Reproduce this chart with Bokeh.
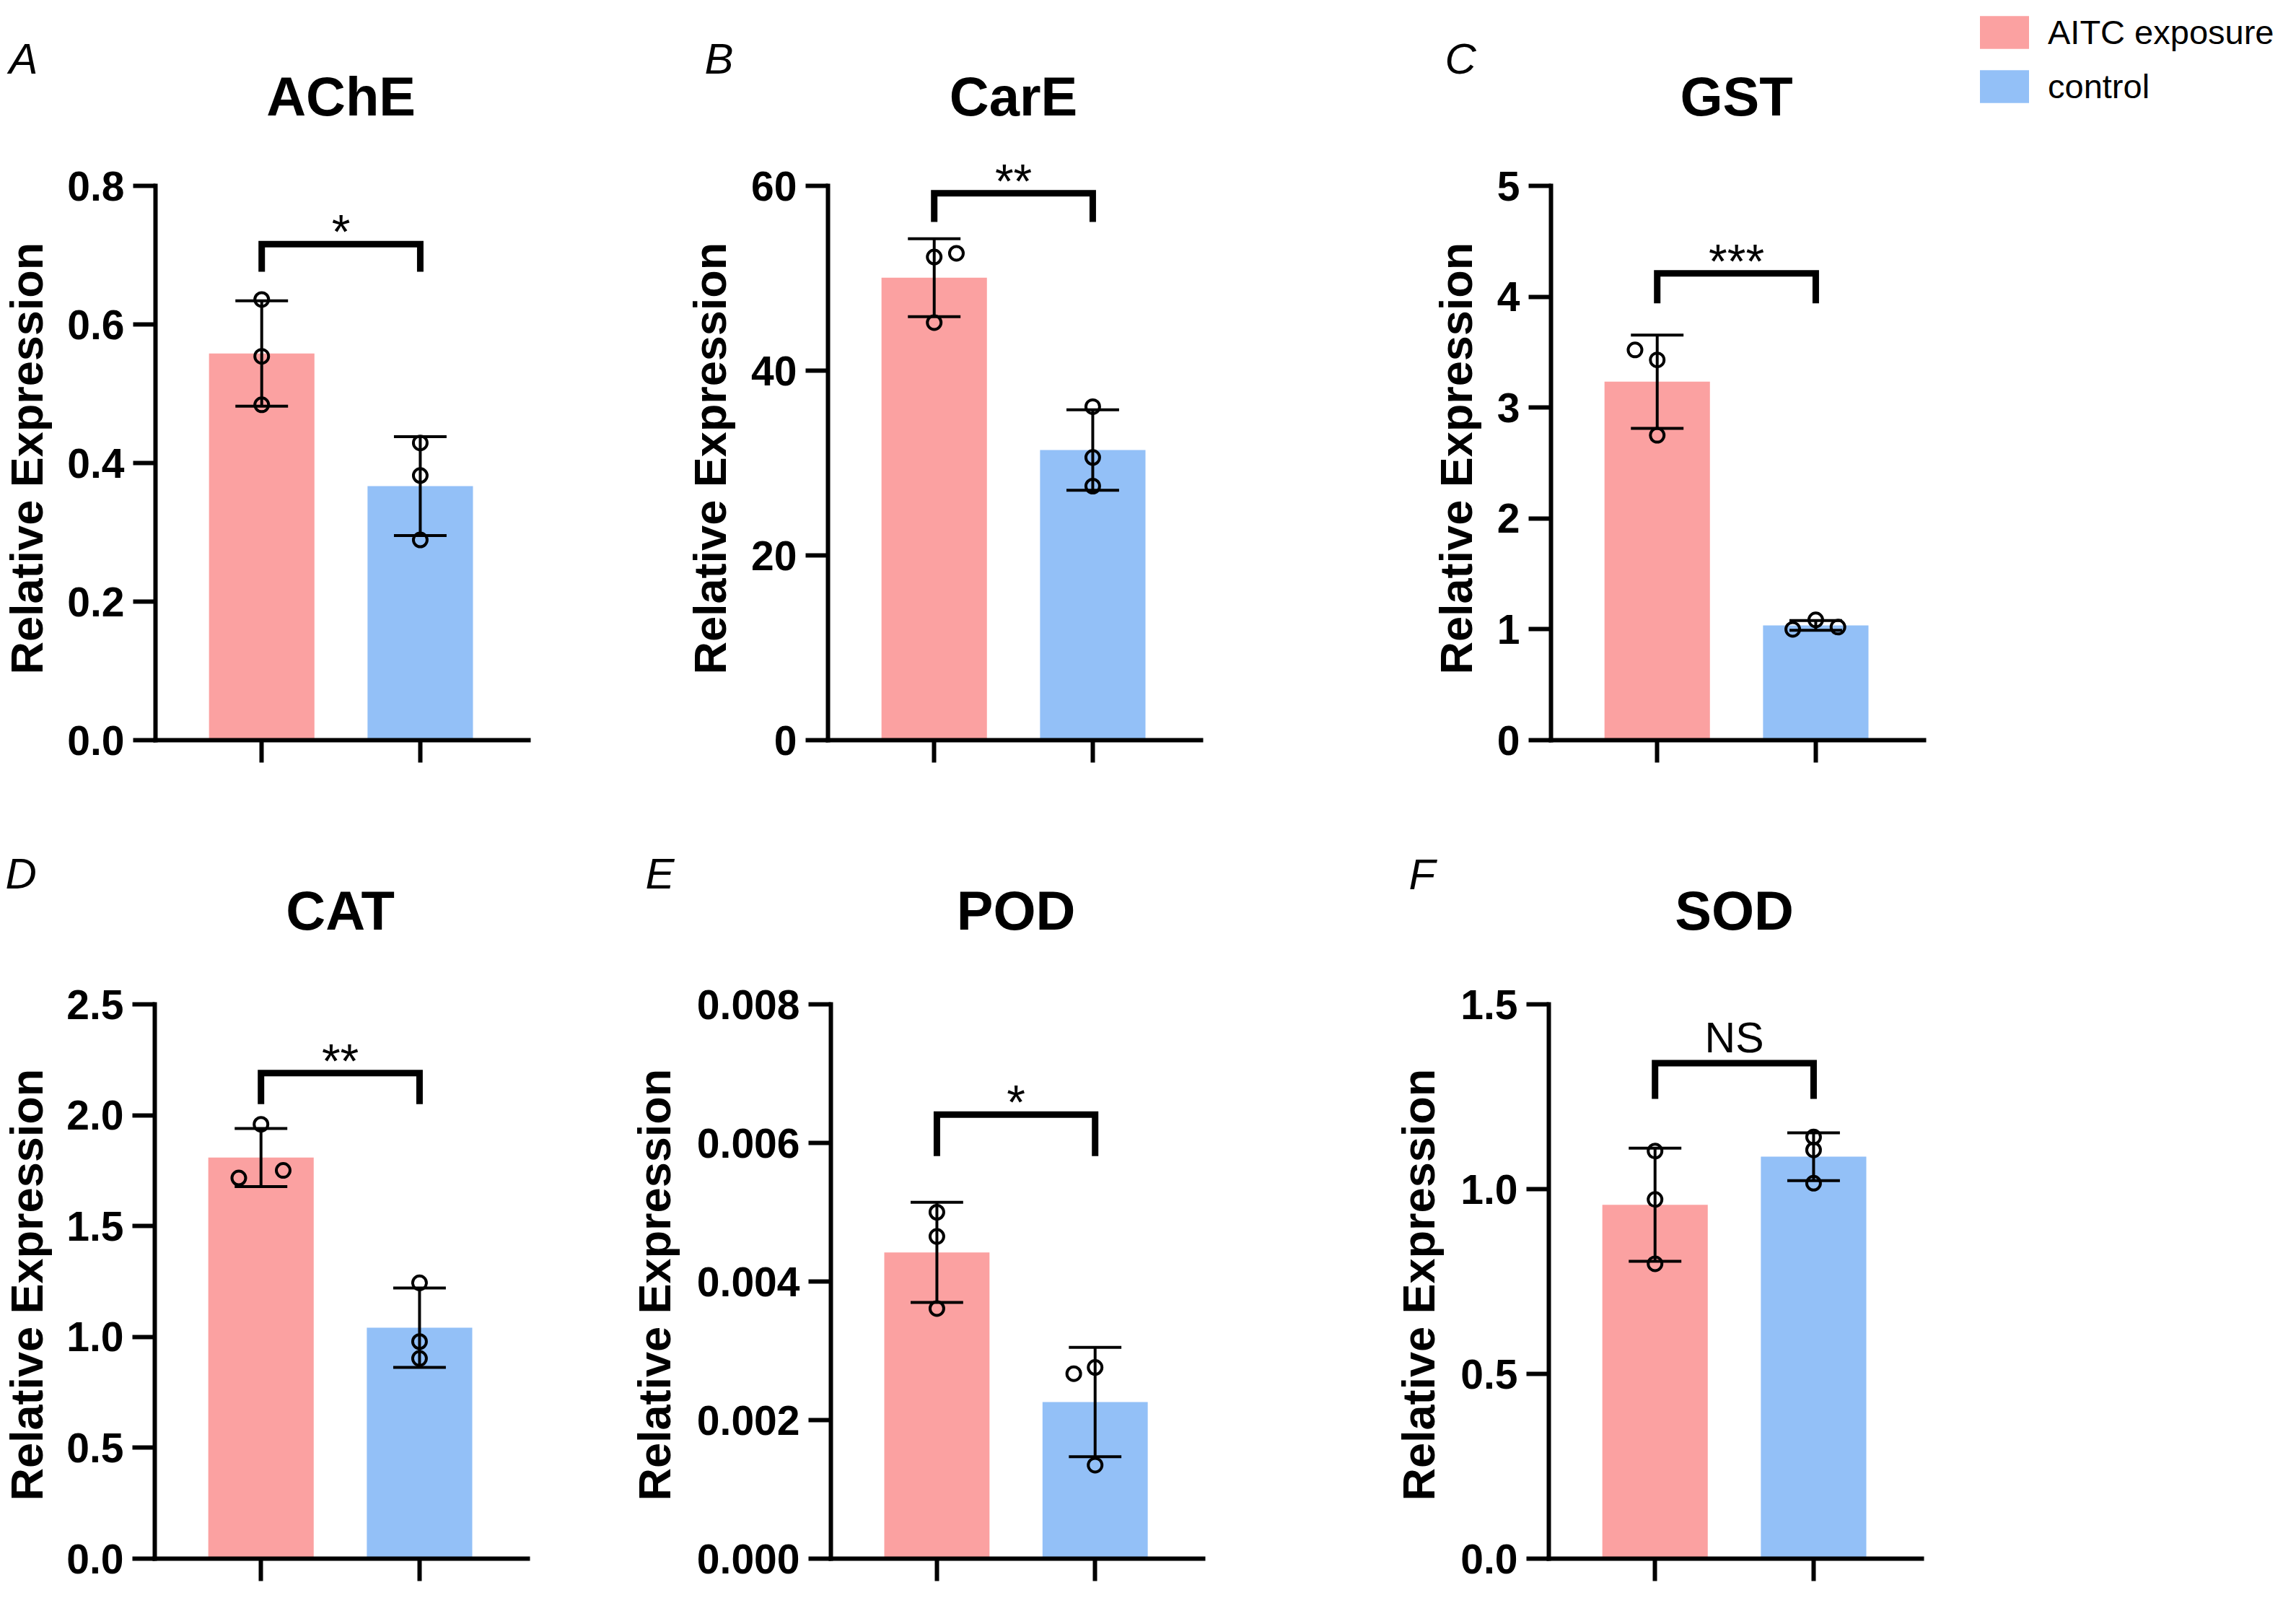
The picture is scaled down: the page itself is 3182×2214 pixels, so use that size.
import numpy as np
from math import pi
from bokeh.plotting import figure
from bokeh.models import (ColumnDataSource, FixedTicker, PrintfTickFormatter, Label,
                          Legend, LegendItem, Range1d)
from bokeh.layouts import row, column
from bokeh.embed import file_html
from bokeh.resources import INLINE

# ---------------- data ----------------
groups = ["AITC exposure", "control"]
colors = ["#FBA1A1", "#93C0F7"]

ache_aitc = [0.636, 0.554, 0.484]
ache_ctrl = [0.429, 0.382, 0.289]
care_aitc = [52.3, 52.7, 45.2]
care_ctrl = [36.1, 30.6, 27.5]
gst_aitc = [3.52, 3.43, 2.75]
gst_ctrl = [1.00, 1.085, 1.02]
cat_aitc = [1.959, 1.717, 1.751]
cat_ctrl = [1.244, 0.979, 0.903]
pod_aitc = [0.00500, 0.00465, 0.00361]
pod_ctrl = [0.00276, 0.00267, 0.00135]
sod_aitc = [1.103, 0.972, 0.798]
sod_ctrl = [1.141, 1.106, 1.016]

# horizontal scatter of replicate points (category units)
ache_jit = ([0, 0, 0], [0, 0, 0])
care_jit = ([0, 0.14, 0], [0, 0, 0])
gst_jit = ([-0.14, 0, 0], [-0.145, 0, 0.14])
cat_jit = ([0, -0.14, 0.14], [0, 0, 0])
pod_jit = ([0, 0, 0], [0, -0.135, 0])
sod_jit = ([0, 0, 0], [0, 0, 0])

ache_ticks = [0.0, 0.2, 0.4, 0.6, 0.8]
care_ticks = [0, 20, 40, 60]
gst_ticks = [0, 1, 2, 3, 4, 5]
cat_ticks = [0.0, 0.5, 1.0, 1.5, 2.0, 2.5]
pod_ticks = [0.000, 0.002, 0.004, 0.006, 0.008]
sod_ticks = [0.0, 0.5, 1.0, 1.5]

titles = ["AChE", "CarE", "GST", "CAT", "POD", "SOD"]
letters = ["A", "B", "C", "D", "E", "F"]
signif = ["*", "**", "***", "**", "*", "NS"]
bracket_top = [0.716, 59.2, 4.21, 2.19, 0.00641, 1.341]
bracket_leg = [0.676, 56.1, 3.94, 2.05, 0.00581, 1.244]
ylabel = "Relative Expression"

FONT = "Liberation Sans"
AXIS_H = 768          # pixel height of the drawn y axis
X0, X1 = 0.33, 2.683  # extent of the drawn x axis
AXIS_W = 517


def label_fig(i, width, height, letter_x, letter_base, ylab_x, ylab_cy):
    """narrow strip holding the panel letter and the rotated y-axis title"""
    p = figure(width=width, height=height, x_range=Range1d(0, width), y_range=Range1d(0, height),
               output_backend="svg", toolbar_location=None, x_axis_location=None,
               y_axis_location=None, min_border_left=0, min_border_right=0,
               min_border_top=0, min_border_bottom=0)
    p.outline_line_color = None
    p.grid.visible = False
    p.add_layout(Label(x=letter_x, y=height - letter_base, text=letters[i], text_align="left",
                       text_baseline="alphabetic", text_font=FONT, text_font_size="60px",
                       text_font_style="italic", text_color="black"))
    p.add_layout(Label(x=ylab_x, y=height - ylab_cy, text=ylabel, angle=pi / 2,
                       text_align="center", text_baseline="alphabetic", text_font=FONT,
                       text_font_size="63px", text_font_style="bold", text_color="black"))
    return p


def make_panel(i, aitc, ctrl, jit, ticks, fmt, width, height, bl, br, bt, bb,
               frame_h, title_dy, frame_w=AXIS_W, legend_loc=None):
    ymax = ticks[-1]
    y_end = ymax * frame_h / AXIS_H
    x_end = X0 + (X1 - X0) * frame_w / AXIS_W
    p = figure(width=width, height=height, x_range=Range1d(X0, x_end), y_range=Range1d(0, y_end),
               output_backend="svg", toolbar_location=None,
               min_border_left=bl, min_border_right=br, min_border_top=bt, min_border_bottom=bb)
    p.outline_line_color = None
    p.grid.visible = False

    xs = [1, 2]
    vals = [np.array(aitc), np.array(ctrl)]
    means = [float(v.mean()) for v in vals]
    sds = [float(v.std(ddof=1)) for v in vals]
    upper = [m + s for m, s in zip(means, sds)]
    lower = [m - s for m, s in zip(means, sds)]
    src = ColumnDataSource(dict(x=xs, top=means, color=colors, label=groups,
                                upper=upper, lower=lower,
                                cl=[x - 0.166 for x in xs], cr=[x + 0.166 for x in xs]))
    bars = p.vbar(x="x", top="top", width=0.665, fill_color="color", line_color=None, source=src)
    p.segment(x0="x", y0="lower", x1="x", y1="upper", line_color="black", line_width=4, source=src)
    p.segment(x0="cl", y0="upper", x1="cr", y1="upper", line_color="black", line_width=4, source=src)
    p.segment(x0="cl", y0="lower", x1="cr", y1="lower", line_color="black", line_width=4, source=src)

    px, py = [], []
    for k, (v, j) in enumerate(zip(vals, jit)):
        px += [xs[k] + d for d in j]
        py += list(v)
    p.scatter(px, py, marker="circle", size=19, line_width=4, line_color="black", fill_color=None)

    # significance bracket
    p.line([1, 1, 2, 2], [bracket_leg[i], bracket_top[i], bracket_top[i], bracket_leg[i]],
           line_color="black", line_width=9, line_join="miter")
    if signif[i] == "NS":
        p.add_layout(Label(x=1.5, y=bracket_top[i], y_offset=35, text=signif[i], text_align="center",
                           text_baseline="alphabetic", text_font=FONT, text_font_size="59px",
                           text_color="black"))
    else:
        p.add_layout(Label(x=1.5, y=bracket_top[i], y_offset=17, text=signif[i], text_align="center",
                           text_baseline="alphabetic", text_font=FONT, text_font_size="66px",
                           text_color="black"))

    # panel title
    p.add_layout(Label(x=1.5, y=ymax, y_offset=title_dy, text=titles[i], text_align="center",
                       text_baseline="alphabetic", text_font=FONT, text_font_size="76px",
                       text_font_style="bold", text_color="black"))

    ya = p.yaxis[0]
    ya.ticker = FixedTicker(ticks=ticks)
    ya.formatter = PrintfTickFormatter(format=fmt)
    ya.bounds = (0, ymax)
    ya.axis_line_width = 6
    ya.axis_line_cap = "square"
    ya.major_tick_line_width = 6
    ya.major_tick_out = 31
    ya.major_tick_in = 0
    ya.minor_tick_out = 0
    ya.minor_tick_in = 0
    ya.major_label_standoff = 12
    ya.major_label_text_font = FONT
    ya.major_label_text_font_size = "57px"
    ya.major_label_text_font_style = "bold"
    ya.major_label_text_color = "black"

    xa = p.xaxis[0]
    xa.ticker = FixedTicker(ticks=xs)
    xa.bounds = (X0, X1)
    xa.major_label_overrides = {1: "", 2: ""}
    xa.major_label_text_font_size = "1px"
    xa.axis_line_width = 6
    xa.axis_line_cap = "square"
    xa.major_tick_line_width = 6
    xa.major_tick_out = 31
    xa.major_tick_in = 0
    xa.minor_tick_out = 0
    xa.minor_tick_in = 0

    if legend_loc is not None:
        items = [LegendItem(label=groups[k], renderers=[bars], index=k) for k in range(2)]
        lg = Legend(items=items, location=legend_loc, padding=0, margin=0, spacing=18,
                    glyph_width=85, glyph_height=57, label_height=57, label_standoff=18,
                    label_text_font=FONT, label_text_font_size="47px", label_text_color="black",
                    border_line_color=None, background_fill_alpha=0)
        p.add_layout(lg)
    return p


H1, H2 = 1100, 1114
FH1 = 1025          # frame height row 1 (axis top at 257, frame starts at canvas top)
FH2 = 1059          # frame height row 2

la = label_fig(0, 88, H1, 12, 87, 36, 681)
pa = make_panel(0, ache_aitc, ache_ctrl, ache_jit, ache_ticks, "%.1f", 852, H1, 127, 208, 0, 75, FH1, 124)
lb = label_fig(1, 90, H1, 36, 87, 43, 681)
pb = make_panel(1, care_aitc, care_ctrl, care_jit, care_ticks, "%d", 930, H1, 117, 296, 0, 75, FH1, 124)
lc = label_fig(2, 102, H1, 42, 87, 57, 681)
pc = make_panel(2, gst_aitc, gst_ctrl, gst_jit, gst_ticks, "%d", 1120, H1, 87, 0, 0, 75, FH1, 124,
                frame_w=1033, legend_loc=(586, 877))

ld = label_fig(3, 88, H2, 7, 116, 36, 715)
pd = make_panel(3, cat_aitc, cat_ctrl, cat_jit, cat_ticks, "%.1f", 772, H2, 126, 129, 0, 55, FH2, 130)
le = label_fig(4, 102, H2, 34, 116, 46, 715)
pe = make_panel(4, pod_aitc, pod_ctrl, pod_jit, pod_ticks, "%.3f", 938, H2, 188, 233, 0, 55, FH2, 130)
lf = label_fig(5, 110, H2, 52, 117, 65, 715)
pf = make_panel(5, sod_aitc, sod_ctrl, sod_jit, sod_ticks, "%.1f", 1172, H2, 136, 519, 0, 55, FH2, 130)

layout = column(row(la, pa, lb, pb, lc, pc, spacing=0),
                row(ld, pd, le, pe, lf, pf, spacing=0), spacing=0)
open("out.html", "w").write(file_html(layout, INLINE))
